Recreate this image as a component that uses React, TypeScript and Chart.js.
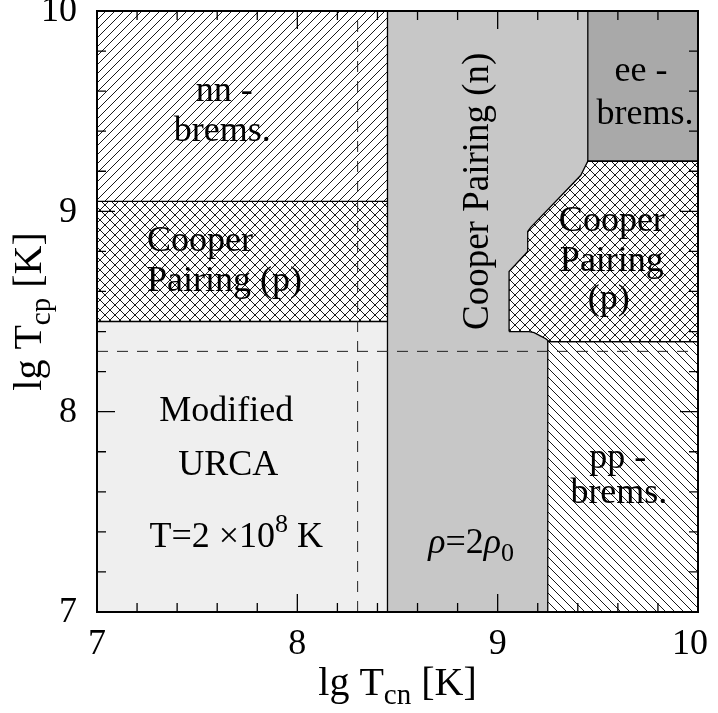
import { useEffect, useRef } from "react";
import { Chart, registerables } from "chart.js";

Chart.register(...registerables);

// ---- axis ranges / ticks (lg T in K) ----
const X_MIN = 7;
const X_MAX = 10;
const Y_MIN = 7;
const Y_MAX = 10;
const MAJOR_TICKS = [7, 8, 9, 10];
const MINOR_TICKS = [7.2, 7.4, 7.6, 7.8, 8.2, 8.4, 8.6, 8.8, 9.2, 9.4, 9.6, 9.8];
const TICK_LABELS = ["7", "8", "9", "10"];

// ---- region boundaries ----
// Modified URCA (light grey): top edge, filled down to lg T = 7
const urcaTop = [
  { x: 7, y: 8.45 },
  { x: 8.45, y: 8.45 },
];
// Cooper pairing (p), left block: top edge, filled down to 8.45
const cpLeftTop = [
  { x: 7, y: 9.05 },
  { x: 8.45, y: 9.05 },
];
// nn-bremsstrahlung: top edge, filled down to 9.05
const nnTop = [
  { x: 7, y: 10 },
  { x: 8.45, y: 10 },
];
// Cooper pairing (n): whole right part, filled down to 7
const cnTop = [
  { x: 8.45, y: 10 },
  { x: 10, y: 10 },
];
// ee-bremsstrahlung: left + bottom edge, filled up to 10
const eeEdge = [
  { x: 9.45, y: 10 },
  { x: 9.45, y: 9.25 },
  { x: 10, y: 9.25 },
];
// pp-bremsstrahlung: left + top edge, filled down to 7
const ppEdge = [
  { x: 9.25, y: 7 },
  { x: 9.25, y: 8.35 },
  { x: 10, y: 8.35 },
];
// Cooper pairing (p), right block: upper/left boundary and lower boundary
const cpRightUpper = [
  { x: 9.057, y: 8.4 },
  { x: 9.057, y: 8.7 },
  { x: 9.15, y: 8.8 },
  { x: 9.15, y: 8.9 },
  { x: 9.165, y: 8.92 },
  { x: 9.415, y: 9.18 },
  { x: 9.45, y: 9.25 },
  { x: 10, y: 9.25 },
];
const cpRightLower = [
  { x: 9.057, y: 8.4 },
  { x: 9.157, y: 8.4 },
  { x: 9.182, y: 8.394 },
  { x: 9.215, y: 8.377 },
  { x: 9.24, y: 8.364 },
  { x: 9.257, y: 8.35 },
  { x: 10, y: 8.35 },
];
// divider between the proton and neutron-dominated parts
const divider = [
  { x: 8.45, y: 7 },
  { x: 8.45, y: 10 },
];
// T = 2 x 10^8 K guide lines
const guideV = [
  { x: 8.301, y: 7 },
  { x: 8.301, y: 10 },
];
const guideH = [
  { x: 7, y: 8.301 },
  { x: 10, y: 8.301 },
];

// ---- text annotations (anchored in data coordinates) ----
type Run = { t: string; s?: "sup" | "sub"; i?: boolean };
type Label = { runs: Run[]; x: number; y: number; align: "left" | "center"; rot?: boolean };
const LABELS: Label[] = [
  { runs: [{ t: "nn -" }], x: 7.635, y: 9.55, align: "center" },
  { runs: [{ t: "brems." }], x: 7.625, y: 9.35, align: "center" },
  { runs: [{ t: "Cooper" }], x: 7.25, y: 8.8, align: "left" },
  { runs: [{ t: "Pairing (p)" }], x: 7.25, y: 8.6, align: "left" },
  { runs: [{ t: "Modified" }], x: 7.645, y: 7.955, align: "center" },
  { runs: [{ t: "URCA" }], x: 7.655, y: 7.685, align: "center" },
  { runs: [{ t: "T=2 ×10" }, { t: "8", s: "sup" }, { t: " K" }], x: 7.695, y: 7.325, align: "center" },
  { runs: [{ t: "ρ", i: true }, { t: "=2" }, { t: "ρ", i: true }, { t: "0", s: "sub" }], x: 8.8675, y: 7.295, align: "center" },
  { runs: [{ t: "Cooper Pairing (n)" }], x: 8.95, y: 9.1, align: "center", rot: true },
  { runs: [{ t: "ee -" }], x: 9.715, y: 9.65, align: "center" },
  { runs: [{ t: "brems." }], x: 9.735, y: 9.435, align: "center" },
  { runs: [{ t: "Cooper" }], x: 9.57, y: 8.9, align: "center" },
  { runs: [{ t: "Pairing" }], x: 9.57, y: 8.7, align: "center" },
  { runs: [{ t: "(p)" }], x: 9.555, y: 8.51, align: "center" },
  { runs: [{ t: "pp -" }], x: 9.6, y: 7.72, align: "center" },
  { runs: [{ t: "brems." }], x: 9.605, y: 7.545, align: "center" },
];
const X_TITLE: Run[] = [{ t: "lg T" }, { t: "cn", s: "sub" }, { t: " [K]" }];
const Y_TITLE: Run[] = [{ t: "lg T" }, { t: "cp", s: "sub" }, { t: " [K]" }];

const FONT = '"Liberation Serif", "Times New Roman", serif';

function makePattern(kind: "fwd" | "back" | "cross", size: number): CanvasPattern | string {
  const c = document.createElement("canvas");
  c.width = size;
  c.height = size;
  const g = c.getContext("2d");
  if (!g) return "#fff";
  g.fillStyle = "#fff";
  g.fillRect(0, 0, size, size);
  g.strokeStyle = "#000";
  g.lineWidth = 0.9;
  g.beginPath();
  if (kind === "fwd" || kind === "cross") {
    g.moveTo(0, size);
    g.lineTo(size, 0);
    g.moveTo(-2, 2);
    g.lineTo(2, -2);
    g.moveTo(size - 2, size + 2);
    g.lineTo(size + 2, size - 2);
  }
  if (kind === "back" || kind === "cross") {
    g.moveTo(0, 0);
    g.lineTo(size, size);
    g.moveTo(-2, size - 2);
    g.lineTo(2, size + 2);
    g.moveTo(size - 2, -2);
    g.lineTo(size + 2, 2);
  }
  g.stroke();
  const p = g.createPattern(c, "repeat");
  return p ?? "#fff";
}

function drawRuns(ctx: CanvasRenderingContext2D, runs: Run[], x: number, y: number, size: number, align: "left" | "center") {
  const small = Math.round(size * 0.72);
  const fontFor = (r: Run) => `${r.i ? "italic " : ""}${r.s ? small : size}px ${FONT}`;
  const widths = runs.map((r) => {
    ctx.font = fontFor(r);
    return ctx.measureText(r.t).width;
  });
  const total = widths.reduce((a, b) => a + b, 0);
  let cx = align === "center" ? x - total / 2 : x;
  ctx.textAlign = "left";
  ctx.textBaseline = "alphabetic";
  runs.forEach((r, i) => {
    ctx.font = fontFor(r);
    const dy = r.s === "sup" ? -size * 0.42 : r.s === "sub" ? size * 0.22 : 0;
    ctx.fillText(r.t, cx, y + dy);
    cx += widths[i];
  });
}

const decorPlugin = {
  id: "decor",
  afterDatasetsDraw(chart: any) {
    const { ctx, chartArea: a, scales } = chart;
    const xs = scales.x;
    const ys = scales.y;
    ctx.save();
    // inward tick marks on all four sides
    ctx.strokeStyle = "#000";
    ctx.lineWidth = 1.3;
    ctx.beginPath();
    const addTicks = (vals: number[], len: number) => {
      for (const v of vals) {
        const px = xs.getPixelForValue(v);
        const py = ys.getPixelForValue(v);
        ctx.moveTo(px, a.bottom);
        ctx.lineTo(px, a.bottom - len);
        ctx.moveTo(px, a.top);
        ctx.lineTo(px, a.top + len);
        ctx.moveTo(a.left, py);
        ctx.lineTo(a.left + len, py);
        ctx.moveTo(a.right, py);
        ctx.lineTo(a.right - len, py);
      }
    };
    addTicks(MAJOR_TICKS, 18);
    addTicks(MINOR_TICKS, 9);
    ctx.stroke();
    // frame
    ctx.lineWidth = 2;
    ctx.strokeRect(a.left, a.top, a.right - a.left, a.bottom - a.top);

    ctx.fillStyle = "#000";
    // tick labels
    ctx.font = `36px ${FONT}`;
    MAJOR_TICKS.forEach((v, i) => {
      const txt = TICK_LABELS[i];
      const w = ctx.measureText(txt).width;
      let px = xs.getPixelForValue(v);
      if (px + w / 2 > chart.width - 10) px = chart.width - 10 - w / 2;
      ctx.textAlign = "center";
      ctx.textBaseline = "alphabetic";
      ctx.fillText(txt, px, a.bottom + 42);
      ctx.textAlign = "right";
      ctx.textBaseline = "middle";
      ctx.fillText(txt, a.left - 20, ys.getPixelForValue(v) + 1);
    });

    // axis titles
    drawRuns(ctx, X_TITLE, (a.left + a.right) / 2, a.bottom + 83, 40, "center");
    ctx.save();
    ctx.translate(a.left - 56, (a.top + a.bottom) / 2);
    ctx.rotate(-Math.PI / 2);
    drawRuns(ctx, Y_TITLE, 0, 0, 40, "center");
    ctx.restore();

    // region labels
    for (const l of LABELS) {
      const px = xs.getPixelForValue(l.x);
      const py = ys.getPixelForValue(l.y);
      if (l.rot) {
        ctx.save();
        ctx.translate(px, py);
        ctx.rotate(-Math.PI / 2);
        drawRuns(ctx, l.runs, 0, 0, 37, "center");
        ctx.restore();
      } else {
        drawRuns(ctx, l.runs, px, py, 36, l.align);
      }
    }
    ctx.restore();
  },
};

export default function App() {
  const ref = useRef<HTMLCanvasElement | null>(null);
  useEffect(() => {
    const canvas = ref.current;
    if (!canvas) return;
    const fwd = makePattern("fwd", 9);
    const back = makePattern("back", 9);
    const cross = makePattern("cross", 10);
    const edge = { borderColor: "#000", borderWidth: 1.3, pointRadius: 0, tension: 0 };
    const chart = new Chart(canvas, {
      type: "line",
      data: {
        datasets: [
          { data: guideH, fill: false, borderColor: "#222", borderWidth: 1, borderDash: [11, 9], pointRadius: 0 },
          { data: guideV, fill: false, borderColor: "#222", borderWidth: 1, borderDash: [11, 9], pointRadius: 0 },
          { data: divider, fill: false, ...edge },
          { data: cpRightUpper, fill: "+1", backgroundColor: cross, ...edge },
          { data: cpRightLower, fill: false, ...edge },
          { data: eeEdge, fill: { value: 10 }, backgroundColor: "#a9a9a9", ...edge },
          { data: ppEdge, fill: { value: 7 }, backgroundColor: back, ...edge },
          { data: urcaTop, fill: { value: 7 }, backgroundColor: "#efefef", ...edge },
          { data: cpLeftTop, fill: { value: 8.45 }, backgroundColor: cross, ...edge },
          { data: nnTop, fill: { value: 9.05 }, backgroundColor: fwd, ...edge },
          { data: cnTop, fill: { value: 7 }, backgroundColor: "#c7c7c7", ...edge, borderWidth: 0 },
        ] as any,
      },
      options: {
        animation: false,
        responsive: false,
        events: [],
        layout: { padding: { left: 97, top: 11, right: 20, bottom: 101 } },
        scales: {
          x: { type: "linear", min: X_MIN, max: X_MAX, display: false },
          y: { type: "linear", min: Y_MIN, max: Y_MAX, display: false },
        },
        plugins: {
          legend: { display: false },
          tooltip: { enabled: false },
          filler: { propagate: false, drawTime: "beforeDatasetsDraw" },
        } as any,
      },
      plugins: [decorPlugin],
    });
    return () => chart.destroy();
  }, []);
  return (
    <div style={{ position: "absolute", left: 0, top: 0, width: 718, height: 713 }}>
      <canvas ref={ref} width={718} height={713} style={{ display: "block" }} />
    </div>
  );
}
